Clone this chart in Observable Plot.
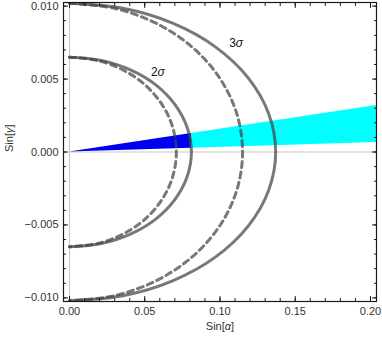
<!DOCTYPE html>
<html><head><meta charset="utf-8">
<script src="https://cdn.jsdelivr.net/npm/d3@7"></script>
<script src="https://cdn.jsdelivr.net/npm/@observablehq/plot@0.6"></script>
<style>body{margin:0;background:#fff} svg{display:block}</style>
</head><body><div id="chart"></div>
<script>
// ---- data ----
const xDomain = [-0.004, 0.204];
const yDomain = [-0.01025, 0.01025];
const xMajor = [0, 0.05, 0.10, 0.15, 0.20];
const xMinor = [0,0.01,0.02,0.03,0.04,0.05,0.06,0.07,0.08,0.09,0.10,0.11,0.12,0.13,0.14,0.15,0.16,0.17,0.18,0.19,0.20];
const yMajor = [-0.010, -0.005, 0, 0.005, 0.010];
const yMinor = [-0.010,-0.009,-0.008,-0.007,-0.006,-0.005,-0.004,-0.003,-0.002,-0.001,0,0.001,0.002,0.003,0.004,0.005,0.006,0.007,0.008,0.009,0.010];

// band (wedge) : blue part up to the 2σ contour, cyan beyond
const blueX = [0, 0.081];
const blueLow = [0, 0.00026];
const blueHigh = [0, 0.00127];
const cyanX = [0.081, 0.204];
const cyanLow = [0.00026, 0.00065];
const cyanHigh = [0.00127, 0.00319];

// contours [x, y]
const sigma2Solid = [[0,0.0065],[0.021,0.00628],[0.0405,0.00563],[0.0573,0.0046],[0.0701,0.00325],[0.0782,0.00168],[0.081,0],[0.0782,-0.00168],[0.0701,-0.00325],[0.0573,-0.0046],[0.0405,-0.00563],[0.021,-0.00628],[0,-0.0065]];
const sigma2Dashed = [[0,0.0065],[0.0184,0.00628],[0.0355,0.00563],[0.0502,0.0046],[0.0615,0.00325],[0.0686,0.00168],[0.071,0],[0.0686,-0.00168],[0.0615,-0.00325],[0.0502,-0.0046],[0.0355,-0.00563],[0.0184,-0.00628],[0,-0.0065]];
const sigma3Solid = [[0,0.0102],[0.0355,0.00985],[0.0685,0.00883],[0.0969,0.00721],[0.1186,0.0051],[0.1323,0.00264],[0.137,0],[0.1323,-0.00264],[0.1186,-0.0051],[0.0969,-0.00721],[0.0685,-0.00883],[0.0355,-0.00985],[0,-0.0102]];
const sigma3Dashed = [[0,0.0102],[0.0298,0.00985],[0.0575,0.00883],[0.0813,0.00721],[0.0996,0.0051],[0.1111,0.00264],[0.115,0],[0.1111,-0.00264],[0.0996,-0.0051],[0.0813,-0.00721],[0.0575,-0.00883],[0.0298,-0.00985],[0,-0.0102]];

const annLabels = ["2σ", "3σ"];
const annX = [0.0587, 0.1107];
const annY = [0.00548, 0.00747];

// ---- build ----
const blue = blueX.map((x, i) => ({x, y1: blueLow[i], y2: blueHigh[i]}));
const cyan = cyanX.map((x, i) => ({x, y1: cyanLow[i], y2: cyanHigh[i]}));
const ann = annLabels.map((t, i) => ({t, x: annX[i], y: annY[i]}));
const frameColor = "#1a1a1a";
const textColor = "#333";
const curveStroke = "#444";

const lineOpts = {x: d => d[0], y: d => d[1], stroke: curveStroke, strokeOpacity: 0.72, strokeWidth: 3, curve: "catmull-rom", clip: true};

const chart = Plot.plot({
  width: 382, height: 343,
  marginLeft: 63, marginRight: 6, marginTop: 2, marginBottom: 42,
  style: {fontFamily: "'Liberation Sans', Arial, sans-serif", fontSize: "11px", background: "#fff"},
  x: {domain: xDomain},
  y: {domain: yDomain},
  marks: [
    Plot.ruleX([0], {stroke: "#c8c8c8", strokeWidth: 1.2}),
    Plot.ruleY([0], {x1: 0, x2: xDomain[1], stroke: "#c8c8c8", strokeWidth: 1.2}),
    Plot.areaY(blue, {x: "x", y1: "y1", y2: "y2", fill: "#0000f0", clip: true}),
    Plot.areaY(cyan, {x: "x", y1: "y1", y2: "y2", fill: "#00ffff", clip: true}),
    Plot.line(sigma3Solid, lineOpts),
    Plot.line(sigma3Dashed, {...lineOpts, strokeDasharray: "6,4.5"}),
    Plot.line(sigma2Solid, lineOpts),
    Plot.line(sigma2Dashed, {...lineOpts, strokeDasharray: "6,4.5"}),
    Plot.text(ann, {x: "x", y: "y", text: "t", fontSize: 12, fill: "#111"}),
    Plot.frame({stroke: frameColor, strokeWidth: 1.2}),
    // inward ticks, all four sides
    Plot.axisX({anchor: "bottom", ticks: xMajor, tickSize: 5, dy: -5, fill: "none", stroke: frameColor, label: null}),
    Plot.axisX({anchor: "bottom", ticks: xMinor, tickSize: 3, dy: -3, fill: "none", stroke: frameColor, label: null}),
    Plot.axisX({anchor: "top", ticks: xMajor, tickSize: 5, dy: 5, fill: "none", stroke: frameColor, label: null}),
    Plot.axisX({anchor: "top", ticks: xMinor, tickSize: 3, dy: 3, fill: "none", stroke: frameColor, label: null}),
    Plot.axisY({anchor: "left", ticks: yMajor, tickSize: 5, dx: 5, fill: "none", stroke: frameColor, label: null}),
    Plot.axisY({anchor: "left", ticks: yMinor, tickSize: 3, dx: 3, fill: "none", stroke: frameColor, label: null}),
    Plot.axisY({anchor: "right", ticks: yMajor, tickSize: 5, dx: -5, fill: "none", stroke: frameColor, label: null}),
    Plot.axisY({anchor: "right", ticks: yMinor, tickSize: 3, dx: -3, fill: "none", stroke: frameColor, label: null}),
    // tick labels
    Plot.axisX({anchor: "bottom", ticks: xMajor, tickSize: 0, tickPadding: 6, tickFormat: d3.format(".2f"), fill: textColor, label: null}),
    Plot.axisY({anchor: "left", ticks: yMajor, tickSize: 0, tickPadding: 5, tickFormat: d3.format(".3f"), fill: textColor, label: null}),
    // axis titles
    Plot.text(["Sin[α]"], {frameAnchor: "bottom", dy: 28, fill: textColor}),
    Plot.text(["Sin[γ]"], {frameAnchor: "left", dx: -54, rotate: -90, fill: textColor})
  ]
});
document.getElementById("chart").appendChild(chart);

// italic Greek letters
d3.select(chart).selectAll("text").each(function () {
  const s = this.textContent;
  const m = s.match(/^(.*?)([ασγ])(.*)$/);
  if (!m || this.childElementCount) return;
  const el = d3.select(this);
  el.text(null);
  if (m[1]) el.append("tspan").text(m[1]);
  el.append("tspan").attr("font-style", "italic").text(m[2]);
  if (m[3]) el.append("tspan").text(m[3]);
});
</script>
</body></html>
